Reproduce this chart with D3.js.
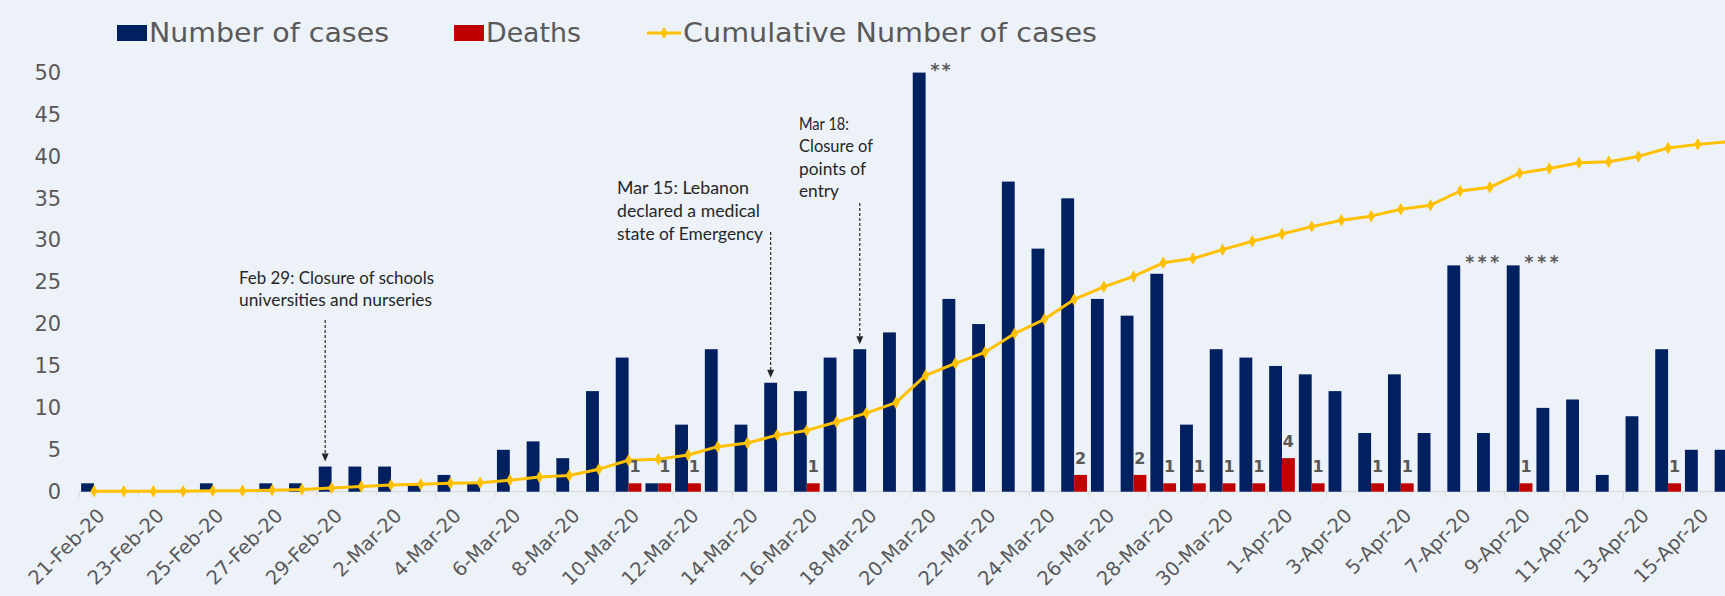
<!DOCTYPE html>
<html><head><meta charset="utf-8">
<script src="https://cdn.jsdelivr.net/npm/d3@7"></script>
<style>html,body{margin:0;padding:0;background:#EDF2F9;overflow:hidden}svg{display:block}</style>
</head><body><svg id="chart" width="1725" height="596"></svg>
<script>
// ---------- data ----------
const dates = ["21-Feb-20","22-Feb-20","23-Feb-20","24-Feb-20","25-Feb-20","26-Feb-20","27-Feb-20","28-Feb-20","29-Feb-20",
"1-Mar-20","2-Mar-20","3-Mar-20","4-Mar-20","5-Mar-20","6-Mar-20","7-Mar-20","8-Mar-20","9-Mar-20","10-Mar-20",
"11-Mar-20","12-Mar-20","13-Mar-20","14-Mar-20","15-Mar-20","16-Mar-20","17-Mar-20","18-Mar-20","19-Mar-20","20-Mar-20",
"21-Mar-20","22-Mar-20","23-Mar-20","24-Mar-20","25-Mar-20","26-Mar-20","27-Mar-20","28-Mar-20","29-Mar-20","30-Mar-20","31-Mar-20",
"1-Apr-20","2-Apr-20","3-Apr-20","4-Apr-20","5-Apr-20","6-Apr-20","7-Apr-20","8-Apr-20","9-Apr-20","10-Apr-20",
"11-Apr-20","12-Apr-20","13-Apr-20","14-Apr-20","15-Apr-20","16-Apr-20"];
const cases = [1,0,0,0,1,0,1,1,3,
3,3,1,2,1,5,6,4,12,16,
1,8,17,8,13,12,16,17,19,50,
23,20,37,29,35,23,21,26,8,17,16,
15,14,12,7,14,7,27,7,27,10,
11,2,9,17,5,5];
const deaths = [0,0,0,0,0,0,0,0,0,
0,0,0,0,0,0,0,0,0,1,
1,1,0,0,0,1,0,0,0,0,
0,0,0,0,2,0,2,1,1,1,1,
4,1,0,1,1,0,0,0,1,0,
0,0,0,1,0,0];
const cumulative = [1,1,1,1,2,2,3,4,7,
10,13,14,16,17,22,28,31,43,60,
62,70,86,93,108,117,133,150,170,222,
245,266,302,329,367,391,411,437,445,462,478,
492,506,518,526,539,547,574,581,608,617,
628,630,640,656,663,668];
const yTickValues = [0,5,10,15,20,25,30,35,40,45,50];
const xTickLabels = ["21-Feb-20","23-Feb-20","25-Feb-20","27-Feb-20","29-Feb-20","2-Mar-20","4-Mar-20","6-Mar-20","8-Mar-20",
"10-Mar-20","12-Mar-20","14-Mar-20","16-Mar-20","18-Mar-20","20-Mar-20","22-Mar-20","24-Mar-20","26-Mar-20","28-Mar-20",
"30-Mar-20","1-Apr-20","3-Apr-20","5-Apr-20","7-Apr-20","9-Apr-20","11-Apr-20","13-Apr-20","15-Apr-20"];
const seriesNames = ["Number of cases","Deaths","Cumulative Number of cases"];
const asteriskNotes = [{date:"20-Mar-20",text:"**"},{date:"7-Apr-20",text:"***"},{date:"9-Apr-20",text:"***"}];
const annotations = [
  {date:"29-Feb-20", lines:["Feb 29: Closure of schools","universities and nurseries"]},
  {date:"15-Mar-20", lines:["Mar 15: Lebanon","declared a medical","state of Emergency"]},
  {date:"18-Mar-20", lines:["Mar 18:","Closure of","points of","entry"]}
];

// ---------- layout / style ----------
const W = 1725, H = 596;
const plotLeft = 79.15, step = 29.7, baseY = 491.7, topY = 72.6;
const C = {blue:"#002060", red:"#C00000", gold:"#FFC000", text:"#595959", axis:"#D9D9D9", note:"#262626", bg:"#EDF2F9"};
const annLayout = [
  {x:239, base:[284,306], widths:[195,193], arrowTop:320},
  {x:617, base:[194,217,240], widths:[132,143,146], arrowTop:232},
  {x:799, base:[130,152,175,197], widths:[50,74,67,40], arrowTop:203}
];

const svg = d3.select("#chart");
svg.append("rect").attr("width",W).attr("height",H).attr("fill",C.bg);

const x0 = d3.scaleBand().domain(dates).range([plotLeft, plotLeft + dates.length*step]).padding(0);
const x1 = d3.scaleBand().domain(["cases","deaths"]).range([0, x0.bandwidth()]).paddingInner(0).paddingOuter(0.155);
const y = d3.scaleLinear().domain([0,50]).range([baseY, topY]);
const y2 = d3.scaleLinear().domain([0,800]).range([baseY, topY]);
const cx = d => x0(d) + x0.bandwidth()/2;

// x axis line + boundary ticks
svg.append("line").attr("x1",plotLeft).attr("x2",W).attr("y1",baseY).attr("y2",baseY)
  .attr("stroke",C.axis).attr("stroke-width",1);
svg.append("g").selectAll("line").data(xTickLabels).join("line")
  .attr("x1",d=>x0(d)).attr("x2",d=>x0(d)).attr("y1",baseY).attr("y2",baseY+6)
  .attr("stroke",C.axis).attr("stroke-width",1);

// y axis
const yAxis = svg.append("g").attr("transform",`translate(${plotLeft},0)`)
  .call(d3.axisLeft(y).tickValues(yTickValues).tickSize(0).tickPadding(18));
yAxis.select(".domain").remove();
yAxis.selectAll("text").attr("font-family","DejaVu Sans, Verdana, sans-serif").attr("font-size",21).attr("fill",C.text);

// x axis labels
const xAxis = svg.append("g").attr("transform",`translate(0,${baseY})`)
  .call(d3.axisBottom(x0).tickValues(xTickLabels).tickSize(0));
xAxis.select(".domain").remove();
xAxis.selectAll("text")
  .attr("font-family","DejaVu Sans, Verdana, sans-serif").attr("font-size",19.5).attr("fill",C.text)
  .attr("text-anchor","end").attr("x",0).attr("y",0).attr("dy","0.72em")
  .attr("transform","translate(2,15) rotate(-45)");

// bars
const rows = dates.map((d,i)=>({date:d, cases:cases[i], deaths:deaths[i], cum:cumulative[i]}));
svg.append("g").selectAll("rect").data(rows).join("rect")
  .attr("x",d=>x0(d.date)+x1("cases")).attr("width",x1.bandwidth())
  .attr("y",d=>y(d.cases)).attr("height",d=>baseY-y(d.cases)).attr("fill",C.blue);
const deathRows = rows.filter(d=>d.deaths>0);
svg.append("g").selectAll("rect").data(deathRows).join("rect")
  .attr("x",d=>x0(d.date)+x1("deaths")).attr("width",x1.bandwidth())
  .attr("y",d=>y(d.deaths)).attr("height",d=>baseY-y(d.deaths)).attr("fill",C.red);

// cumulative line
const line = d3.line().x(d=>cx(d.date)).y(d=>y2(d.cum));
svg.append("path").datum(rows).attr("d",line).attr("fill","none")
  .attr("stroke",C.gold).attr("stroke-width",3).attr("stroke-linejoin","round");
svg.append("g").selectAll("path").data(rows).join("path")
  .attr("transform",d=>`translate(${cx(d.date)},${y2(d.cum)})`)
  .attr("d",d3.symbol().type(d3.symbolDiamond).size(45)).attr("fill",C.gold);

// death labels
svg.append("g").selectAll("text").data(deathRows).join("text")
  .attr("x",d=>x0(d.date)+x1("deaths")+x1.bandwidth()/2).attr("y",d=>y(d.deaths)-11)
  .attr("text-anchor","middle").attr("font-family","DejaVu Sans, Verdana, sans-serif")
  .attr("font-weight","bold").attr("font-size",16).attr("fill",C.text).text(d=>d.deaths);

// asterisks
svg.append("g").selectAll("text").data(asteriskNotes).join("text")
  .attr("x",d=>x0(d.date)+x1("deaths")+5)
  .attr("y",d=>y(cases[dates.indexOf(d.date)])+3)
  .attr("font-family","DejaVu Sans, sans-serif").attr("font-weight","bold").attr("font-size",17).attr("fill",C.text)
  .attr("textLength",d=>d.text.length===2?20:34).attr("lengthAdjust","spacing")
  .text(d=>d.text);

// annotations
const annG = svg.append("g");
annotations.forEach((a,k)=>{
  const L = annLayout[k];
  a.lines.forEach((t,j)=>{
    annG.append("text").attr("x",L.x).attr("y",L.base[j])
      .attr("font-family","Lato, 'Open Sans', sans-serif").attr("font-size",17).attr("fill",C.note)
      .attr("textLength",L.widths[j]).attr("lengthAdjust","spacingAndGlyphs").text(t);
  });
  const ax = x0(a.date)+x1("cases")+x1.bandwidth()/2;
  const tip = y(cases[dates.indexOf(a.date)]) - 5;
  annG.append("line").attr("x1",ax).attr("x2",ax).attr("y1",L.arrowTop).attr("y2",tip-7)
    .attr("stroke",C.note).attr("stroke-width",1.2).attr("stroke-dasharray","3,2");
  annG.append("path").attr("d",`M${ax-3.5},${tip-8}L${ax+3.5},${tip-8}L${ax},${tip}Z`).attr("fill",C.note);
});

// legend
const lg = svg.append("g").attr("font-family","DejaVu Sans, Verdana, sans-serif").attr("font-size",27).attr("fill",C.text);
lg.append("rect").attr("x",117).attr("y",25).attr("width",30).attr("height",16).attr("fill",C.blue);
lg.append("text").attr("x",149).attr("y",42).attr("textLength",240).attr("lengthAdjust","spacingAndGlyphs").text(seriesNames[0]);
lg.append("rect").attr("x",454).attr("y",25).attr("width",30).attr("height",16).attr("fill",C.red);
lg.append("text").attr("x",486).attr("y",42).attr("textLength",95).attr("lengthAdjust","spacingAndGlyphs").text(seriesNames[1]);
lg.append("line").attr("x1",647).attr("x2",681).attr("y1",33).attr("y2",33).attr("stroke",C.gold).attr("stroke-width",3);
lg.append("path").attr("transform","translate(664,33)").attr("d",d3.symbol().type(d3.symbolDiamond).size(45)()).attr("fill",C.gold);
lg.append("text").attr("x",683).attr("y",42).attr("textLength",414).attr("lengthAdjust","spacingAndGlyphs").text(seriesNames[2]);
</script></body></html>
